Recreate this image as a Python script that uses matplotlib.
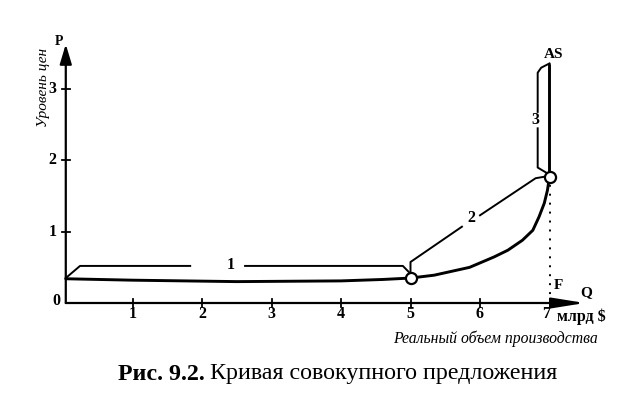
import matplotlib
matplotlib.use('Agg')
import matplotlib.pyplot as plt

# ---- data ----
x_ticks = [1, 2, 3, 4, 5, 6, 7]
x_tick_labels = ['1', '2', '3', '4', '5', '6', '7']
y_ticks = [1, 2, 3]
y_tick_labels = ['1', '2', '3']

# aggregate supply curve AS
as_q = [0.04, 1.0, 2.5, 4.0, 4.6, 5.0, 5.34, 5.85, 6.20, 6.40, 6.61, 6.76,
        6.85, 6.925, 6.97, 7.0, 7.0]
as_p = [0.34, 0.32, 0.30, 0.31, 0.33, 0.35, 0.39, 0.50, 0.645, 0.74, 0.88, 1.02,
        1.21, 1.40, 1.58, 1.77, 3.34]

# key points (circles)
pts_q = [5.0, 7.0]
pts_p = [0.35, 1.77]

# segment brackets (each split around its label)
b1a_q = [0.04, 0.245, 1.83]; b1a_p = [0.35, 0.52, 0.52]
b1b_q = [2.62, 4.89, 4.99]; b1b_p = [0.52, 0.52, 0.42]
b2a_q = [5.0, 5.0, 5.74];   b2a_p = [0.42, 0.575, 1.07]
b2b_q = [6.0, 6.80, 6.92];  b2b_p = [1.23, 1.75, 1.77]
b3a_q = [6.95, 6.83, 6.83]; b3a_p = [1.83, 1.90, 2.45]
b3b_q = [6.83, 6.83, 6.88, 7.0]; b3b_p = [2.68, 3.23, 3.30, 3.36]

seg_labels = ['1', '2', '3']
seg_label_q = [2.42, 5.87, 6.79]
seg_label_p = [0.53, 1.19, 2.57]

# full-employment output F
f_q = 7.0

# ---- figure ----
W, H = 625, 397
fig = plt.figure(figsize=(W / 100, H / 100), dpi=100)
ax = fig.add_axes([0, 0, 1, 1])
x0, sx = 63.0, 69.5     # pixel of Q=0, pixels per unit Q
y0, sy = 303.0, 71.3    # pixel (from top) of P=0, pixels per unit P
ax.set_xlim(-x0 / sx, (W - x0) / sx)
ax.set_ylim((y0 - H) / sy, y0 / sy)
ax.axis('off')

serif = ['Liberation Serif', 'DejaVu Serif']

# axes with arrows
ax.annotate('', xy=(7.51, 0), xytext=(0.04, 0),
            arrowprops=dict(arrowstyle='-|>,head_length=2.0,head_width=0.32',
                            mutation_scale=10, lw=1.6, color='black',
                            shrinkA=0, shrinkB=0))
ax.annotate('', xy=(0.04, 3.63), xytext=(0.04, 0),
            arrowprops=dict(arrowstyle='-|>,head_length=1.2,head_width=0.36',
                            mutation_scale=10, lw=1.6, color='black',
                            shrinkA=0, shrinkB=0))

# ticks
for q, lab in zip(x_ticks, x_tick_labels):
    ax.plot([q, q], [-0.06, 0.06], color='black', lw=1.3)
    ax.text(q - (0.05 if lab == '7' else 0), -0.15, lab, ha='center',
            va='center', fontsize=11.5, fontweight='bold', family=serif)
for p, lab in zip(y_ticks, y_tick_labels):
    ax.plot([-0.02, 0.10], [p, p], color='black', lw=1.3)
    ax.text(-0.15, p, lab, ha='center', va='center', fontsize=11.5,
            fontweight='bold', family=serif)
ax.text(-0.10, 0.03, '0', ha='center', va='center', fontsize=11.5,
        fontweight='bold', family=serif)

# dotted F line
ax.plot([f_q, f_q], [0, pts_p[1] - 0.08], color='black', lw=1.4,
        linestyle=(0, (1, 3.6)))

# AS curve
ax.plot(as_q, as_p, color='black', lw=2.1, solid_joinstyle='round',
        solid_capstyle='round')

# brackets
for bq, bp in [(b1a_q, b1a_p), (b1b_q, b1b_p), (b2a_q, b2a_p),
               (b2b_q, b2b_p), (b3a_q, b3a_p), (b3b_q, b3b_p)]:
    ax.plot(bq, bp, color='black', lw=1.4, solid_joinstyle='round')

for lab, q, p in zip(seg_labels, seg_label_q, seg_label_p):
    ax.text(q, p, lab, ha='center', va='center', fontsize=11.5,
            fontweight='bold', family=serif)

# key points
ax.plot(pts_q, pts_p, 'o', ms=8, mfc='white', mec='black', mew=1.6, zorder=5)

# labels
ax.text(-0.06, 3.67, 'P', ha='center', va='center', fontsize=10,
        fontweight='bold', family=serif)
ax.text(7.06, 3.49, 'AS', ha='center', va='center', fontsize=11,
        fontweight='bold', family=serif)
ax.text(7.13, 0.25, 'F', ha='center', va='center', fontsize=11,
        fontweight='bold', family=serif)
ax.text((586 - x0) / sx, (y0 - 293) / sy, 'Q', ha='center', va='center',
        fontsize=11, fontweight='bold', family=serif)
ax.text((581 - x0) / sx, (y0 - 317) / sy, 'млрд $', ha='center', va='center',
        fontsize=11.5, fontweight='bold', family=serif)
ax.text((495 - x0) / sx, (y0 - 339) / sy, 'Реальный объем производства',
        ha='center', va='center', fontsize=11.3, style='italic', family=serif)
ax.text((43 - x0) / sx, (y0 - 87) / sy, 'Уровень цен', ha='center',
        va='center', fontsize=11, style='italic', rotation=90, family=serif)

# caption
t1 = ax.text((118 - x0) / sx, (y0 - 374) / sy, 'Рис. 9.2.', ha='left',
             va='center', fontsize=17.3, fontweight='bold', family=serif)
fig.canvas.draw()
bb = t1.get_window_extent(renderer=fig.canvas.get_renderer())
xr = ax.transData.inverted().transform((bb.x1 + 5, 0))[0]
ax.text(xr, (y0 - 374) / sy, 'Кривая совокупного предложения', ha='left',
        va='center', fontsize=17.3, family=serif)

fig.savefig('out.png', dpi=100)
